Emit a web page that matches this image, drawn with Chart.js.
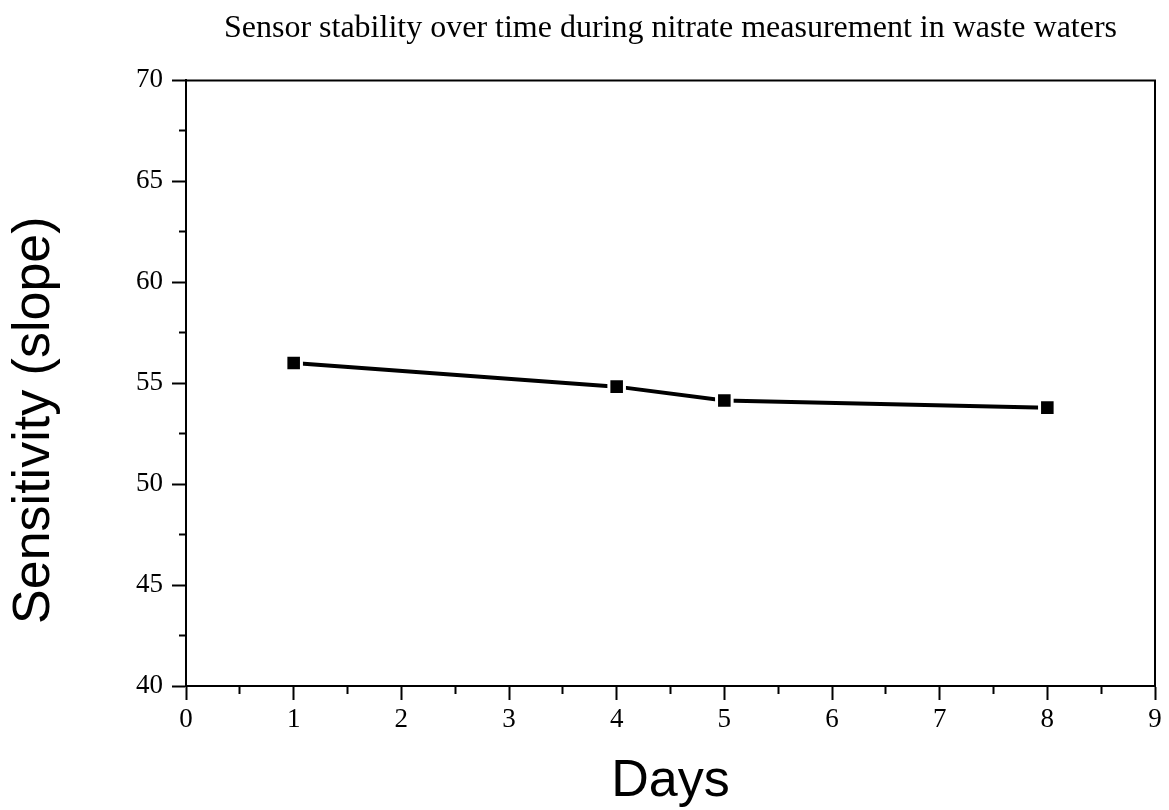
<!DOCTYPE html>
<html>
<head>
<meta charset="utf-8">
<script src="https://cdn.jsdelivr.net/npm/chart.js@4/dist/chart.umd.min.js"></script>
<style>
  body { margin: 0; background: #fff; }
</style>
</head>
<body>
<canvas id="stabilityChart" width="1169" height="810"></canvas>
<script>
// data
const days = [1, 4, 5, 8];
const slope = [56.0, 54.83, 54.14, 53.79];
const xTickLabels = ['0', '1', '2', '3', '4', '5', '6', '7', '8', '9'];
const yTickLabels = ['40', '45', '50', '55', '60', '65', '70'];

const titleText = 'Sensor stability over time during nitrate measurement in waste waters';
const yTitleText = 'Sensitivity (slope)';
const xTitleText = 'Days';

const serif = "'Liberation Serif', 'Times New Roman', serif";
const sans = "'Liberation Sans', Arial, sans-serif";

// top + right frame lines
const frameBorder = {
  id: 'frameBorder',
  beforeDatasetsDraw(chart) {
    const {ctx, chartArea: {left, top, right, bottom}} = chart;
    ctx.save();
    ctx.strokeStyle = '#000';
    ctx.lineWidth = 2;
    ctx.beginPath();
    ctx.moveTo(left, top);
    ctx.lineTo(right, top);
    ctx.lineTo(right, bottom);
    ctx.stroke();
    ctx.restore();
  }
};

// y-axis title, sits a bit below the centre of the axis
const yTitle = {
  id: 'yTitle',
  afterDraw(chart) {
    const {ctx, chartArea: {top, bottom}} = chart;
    ctx.save();
    ctx.translate(35, (top + bottom) / 2 + 37);
    ctx.rotate(-Math.PI / 2);
    ctx.font = '52px ' + sans;
    ctx.fillStyle = '#000';
    ctx.textAlign = 'center';
    ctx.textBaseline = 'middle';
    ctx.fillText(yTitleText, 0, 0);
    ctx.restore();
  }
};

const isMajor = (v, step) => Math.abs(v / step - Math.round(v / step)) < 1e-6;

new Chart(document.getElementById('stabilityChart'), {
  type: 'line',
  data: {
    datasets: [{
      data: days.map((d, i) => ({x: d, y: slope[i]})),
      borderColor: '#000',
      borderWidth: 4,
      pointStyle: 'rect',
      pointRadius: 11,
      pointHoverRadius: 11,
      pointBackgroundColor: '#000',
      pointBorderColor: '#fff',
      pointBorderWidth: 3,
      tension: 0,
      fill: false
    }]
  },
  options: {
    responsive: false,
    animation: false,
    layout: {padding: {left: 0, right: 11, top: 0, bottom: 0}},
    plugins: {
      legend: {display: false},
      tooltip: {enabled: false},
      title: {
        display: true,
        text: titleText,
        fullSize: false,
        color: '#000',
        font: {family: serif, size: 32, weight: 'normal', lineHeight: 1.2},
        padding: {top: 9, bottom: 33}
      }
    },
    scales: {
      x: {
        type: 'linear',
        min: 0,
        max: 9,
        afterFit(scale) { scale.height = 124; },
        border: {display: true, color: '#000', width: 2},
        grid: {
          drawOnChartArea: false,
          drawTicks: true,
          tickLength: 14,
          tickWidth: 2,
          tickColor: '#000',
          tickBorderDash: (ctx) => isMajor(ctx.tick.value, 1) ? [] : [7, 100]
        },
        ticks: {
          stepSize: 0.5,
          autoSkip: false,
          maxRotation: 0,
          padding: 4,
          color: '#000',
          font: {family: serif, size: 27},
          callback: (v) => isMajor(v, 1) ? xTickLabels[Math.round(v)] : ''
        },
        title: {
          display: true,
          text: xTitleText,
          color: '#000',
          font: {family: sans, size: 52, lineHeight: 1.1},
          padding: {top: 0, bottom: 0}
        }
      },
      y: {
        min: 40,
        max: 70,
        afterFit(scale) { scale.width = 186; },
        border: {display: true, color: '#000', width: 2},
        grid: {
          drawOnChartArea: false,
          drawTicks: true,
          tickLength: 14,
          tickWidth: 2,
          tickColor: '#000',
          tickBorderDash: (ctx) => isMajor(ctx.tick.value, 5) ? [] : [0, 7, 7, 100]
        },
        ticks: {
          stepSize: 2.5,
          autoSkip: false,
          padding: 9,
          color: '#000',
          font: {family: serif, size: 27},
          callback: (v) => isMajor(v, 5) ? yTickLabels[Math.round((v - 40) / 5)] : ''
        },
        title: {display: false}
      }
    }
  },
  plugins: [frameBorder, yTitle]
});
</script>
</body>
</html>
